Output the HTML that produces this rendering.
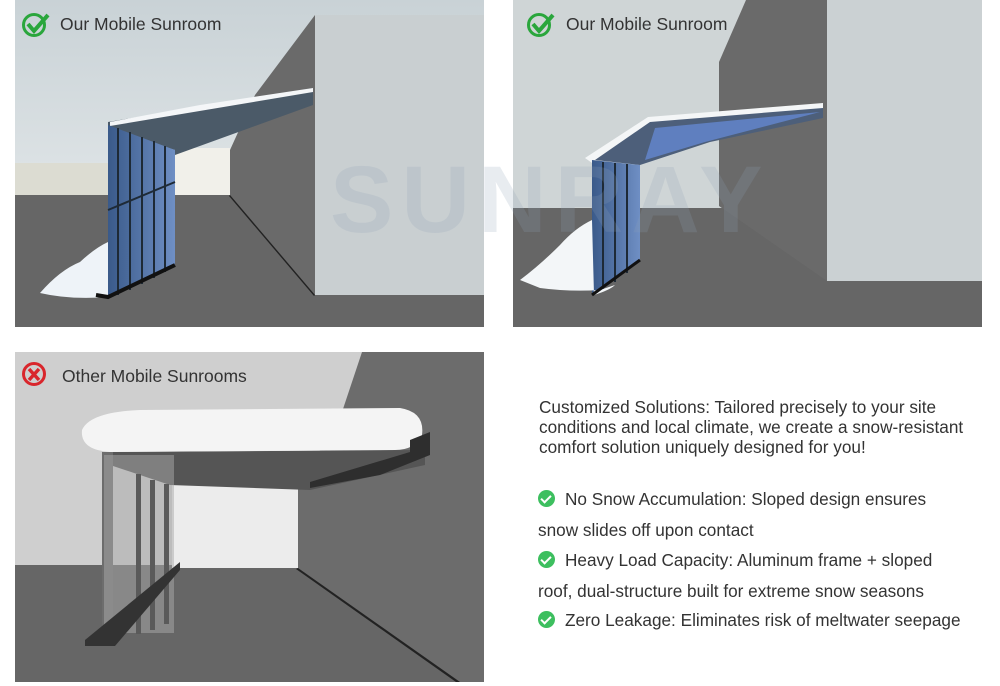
<!DOCTYPE html>
<html><head><meta charset="utf-8"><style>
body{margin:0;width:1000px;height:686px;background:#fff;overflow:hidden;font-family:"Liberation Sans",sans-serif;position:relative}
.t{position:absolute;left:539px;color:#333;font-size:17.2px;line-height:20px;white-space:nowrap}
.b{position:absolute;left:538px;color:#333;font-size:17.2px;white-space:nowrap}
.ck{display:inline-block;width:17px;height:17px;border-radius:50%;background:#3dbf5f;vertical-align:-2px;margin-right:10px;position:relative}
.ck:after{content:"";position:absolute;left:5px;top:3px;width:4px;height:8px;border:solid #fff;border-width:0 2.5px 2.5px 0;transform:rotate(45deg)}
</style></head><body>
<svg width="1000" height="686" style="position:absolute;left:0;top:0" font-family="Liberation Sans, sans-serif">
<defs>
<linearGradient id="sky" x1="0" y1="0" x2="0" y2="1"><stop offset="0" stop-color="#c9d2d6"/><stop offset="1" stop-color="#eef1f2"/></linearGradient>
<linearGradient id="gl" x1="0" y1="0" x2="1" y2="0"><stop offset="0" stop-color="#3a5a8a"/><stop offset="1" stop-color="#6f8fc4"/></linearGradient>
</defs>
<!-- Panel 1 -->
<rect x="15" y="0" width="469" height="327" fill="url(#sky)"/>
<rect x="15" y="163" width="215" height="32" fill="#dcdcd2"/>
<rect x="15" y="195" width="469" height="132" fill="#666"/>
<polygon points="315,15 255,95 230,150 230,195 315,295" fill="#6a6a6a"/>
<rect x="175" y="148" width="55" height="47" fill="#f1f0ea"/>
<polygon points="230,195 315,295 314,296 229,196" fill="#222"/>
<rect x="315" y="15" width="169" height="280" fill="#c9cfd1"/>
<polygon points="108,122 313,88 313,105 175,155 175,150 108,130" fill="#4b5a68"/>
<polygon points="110,122 200,105 313,88 313,92 110,126" fill="#f4f6f8"/>
<polygon points="108,125 175,150 175,265 108,297" fill="url(#gl)"/>
<g stroke="#1e2a36" stroke-width="2"><line x1="118" y1="128" x2="118" y2="295"/><line x1="130" y1="132" x2="130" y2="290"/><line x1="142" y1="137" x2="142" y2="284"/><line x1="154" y1="141" x2="154" y2="278"/><line x1="165" y1="146" x2="165" y2="272"/><line x1="108" y1="210" x2="175" y2="182"/></g>
<path d="M40,293 Q60,270 80,262 Q95,248 108,242 L108,297 Q70,300 40,293Z" fill="#eef3f8"/>
<polyline points="96,295 108,297 175,265" fill="none" stroke="#111" stroke-width="4"/>
<!-- Panel 2 -->
<rect x="513" y="0" width="469" height="327" fill="#cfd5d6"/>
<rect x="513" y="208" width="469" height="119" fill="#666"/>
<polygon points="746,0 827,0 827,281 719,206 719,62" fill="#6a6a6a"/>
<rect x="827" y="0" width="155" height="281" fill="#cbd1d3"/>
<polygon points="585,158 648,117 823,103 823,115 700,140 640,160 595,165" fill="#f4f6f7"/>
<polygon points="595,160 650,122 823,108 823,118 710,142 640,165" fill="#4d5f7a"/>
<polygon points="655,128 820,112 705,142 645,160" fill="#5f7fbf"/>
<polygon points="592,160 640,165 640,260 592,293" fill="url(#gl)"/>
<g stroke="#1e2a36" stroke-width="2"><line x1="603" y1="162" x2="603" y2="290"/><line x1="615" y1="163" x2="615" y2="282"/><line x1="627" y1="164" x2="627" y2="273"/></g>
<path d="M520,280 Q540,265 560,245 Q575,228 592,220 L594,295 Q610,290 615,285 L600,290 Q570,292 540,288 Z" fill="#f3f6f8"/>
<polyline points="592,295 640,260" fill="none" stroke="#111" stroke-width="3"/>
<!-- watermark -->
<text x="330" y="232" font-size="95" font-weight="bold" fill="#8fa2b8" opacity="0.2" letter-spacing="8">SUNRAY</text>
<!-- Panel 3 -->
<rect x="15" y="352" width="469" height="330" fill="#cfcfcf"/>
<rect x="15" y="565" width="469" height="117" fill="#666"/>
<polygon points="362,352 484,352 484,682 460,682 298,568 298,470 355,420 340,418" fill="#6c6c6c"/>
<rect x="172" y="482" width="126" height="86" fill="#ececec"/>
<polygon points="298,568 460,682 456,682 296,569" fill="#222"/>
<polygon points="110,452 425,450 425,465 310,490 170,485 110,465" fill="#555"/>
<polygon points="102,452 113,452 113,640 102,640" fill="#6d6d6d"/>
<rect x="104" y="455" width="70" height="178" fill="#aaa" opacity=".5"/>
<g fill="#5a5a5a"><rect x="136" y="474" width="5" height="160"/><rect x="150" y="480" width="5" height="150"/><rect x="164" y="484" width="5" height="140"/></g>
<polygon points="85,640 180,562 180,570 115,646 85,646" fill="#333"/>
<path d="M82,430 Q90,412 140,410 L400,408 Q425,412 422,435 Q415,450 395,450 L110,452 Q80,450 82,430Z" fill="#f4f4f4"/>
<polygon points="410,440 430,432 430,455 380,475 310,488 310,482 410,452" fill="#2e2e2e"/>
</svg>
<!-- Titles -->
<svg width="30" height="30" style="position:absolute;left:21px;top:10px" viewBox="0 0 30 30"><circle cx="13" cy="15" r="10.5" fill="none" stroke="#2aa63c" stroke-width="3"/><path d="M7,14 L13,21 L27,5" fill="none" stroke="#2aa63c" stroke-width="4"/></svg>
<div style="position:absolute;left:60px;top:14px;font-size:17.5px;color:#333">Our Mobile Sunroom</div>
<svg width="30" height="30" style="position:absolute;left:526px;top:10px" viewBox="0 0 30 30"><circle cx="13" cy="15" r="10.5" fill="none" stroke="#2aa63c" stroke-width="3"/><path d="M7,14 L13,21 L27,5" fill="none" stroke="#2aa63c" stroke-width="4"/></svg>
<div style="position:absolute;left:566px;top:14px;font-size:17.5px;color:#333">Our Mobile Sunroom</div>
<svg width="30" height="30" style="position:absolute;left:20px;top:360px" viewBox="0 0 30 30"><circle cx="14" cy="14" r="10.5" fill="none" stroke="#d9262c" stroke-width="3"/><path d="M9,9 L19,20 M19,9 L9,20" stroke="#d9262c" stroke-width="3.5"/></svg>
<div style="position:absolute;left:62px;top:366px;font-size:17.5px;color:#333">Other Mobile Sunrooms</div>
<!-- Text -->
<div class="t" style="top:397px">Customized Solutions: Tailored precisely to your site<br>conditions and local climate, we create a snow-resistant<br>comfort solution uniquely designed for you!</div>
<div class="b" style="top:489px"><span class="ck"></span>No Snow Accumulation: Sloped design ensures</div>
<div class="b" style="top:520px">snow slides off upon contact</div>
<div class="b" style="top:550px"><span class="ck"></span>Heavy Load Capacity: Aluminum frame + sloped</div>
<div class="b" style="top:581px">roof, dual-structure built for extreme snow seasons</div>
<div class="b" style="top:610px"><span class="ck"></span>Zero Leakage: Eliminates risk of meltwater seepage</div>
</body></html>
